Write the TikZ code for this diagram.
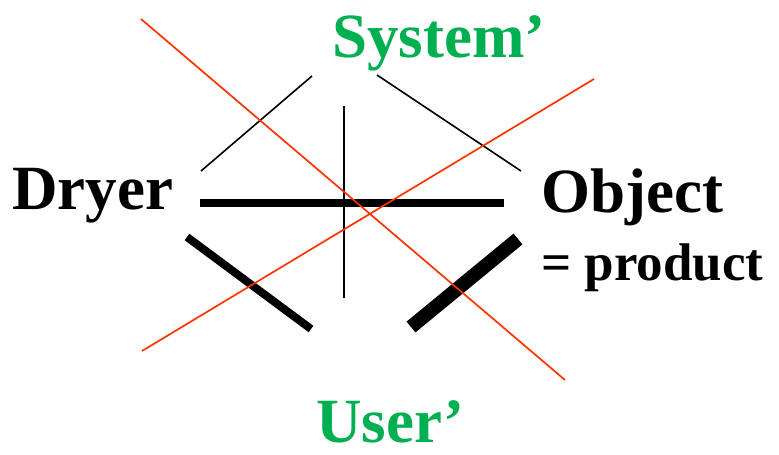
\documentclass[tikz,border=0pt]{standalone}
\usepackage{fontspec}
\setmainfont{Liberation Serif}
\definecolor{lblgreen}{HTML}{00B050}
\definecolor{crossred}{HTML}{FF3300}
\begin{document}
\begin{tikzpicture}[x=1pt,y=-1pt,
  lbl/.style={inner sep=0pt,anchor=base west,font=\fontsize{63}{63}\selectfont\bfseries},
  grn/.style={lbl,text=lblgreen},
  thinline/.style={line width=1.6pt,black},
  redline/.style={line width=1.7pt,crossred}]
\useasboundingbox (0,0) rectangle (779,455);
\fill[white] (0,0) rectangle (779,455);
% labels
\node[grn] (sys) at (332,57) {System’};
\node[lbl] (dry) at (12,209) {Dryer};
\node[lbl] (obj) at (541,212) {Object};
\node[lbl,font=\fontsize{53}{53}\selectfont\bfseries] (prod) at (541,280) {= product};
\node[grn] (usr) at (316,442) {User’};
% coordinates
\coordinate (t1a) at (201,171); \coordinate (t1b) at (312,76);
\coordinate (t2a) at (377,75);  \coordinate (t2b) at (521,171);
\coordinate (va) at (344,106);  \coordinate (vb) at (344,298);
\coordinate (ha) at (200,203);  \coordinate (hb) at (504,203);
\coordinate (la) at (187,237);  \coordinate (lb) at (311,329);
\coordinate (ra) at (518,239);  \coordinate (rb) at (411,327);
\coordinate (r1a) at (141,19);  \coordinate (r1b) at (565,380);
\coordinate (r2a) at (142,351); \coordinate (r2b) at (594,79);
% black lines
\draw[thinline] (t1a) -- (t1b);
\draw[thinline] (t2a) -- (t2b);
\draw[thinline] (va) -- (vb);
\draw[line width=7.5pt] (ha) -- (hb);
\draw[line width=8pt] (la) -- (lb);
\draw[line width=14pt] (ra) -- (rb);
% red cross
\draw[redline] (r1a) -- (r1b);
\draw[redline] (r2a) -- (r2b);
\end{tikzpicture}
\end{document}
